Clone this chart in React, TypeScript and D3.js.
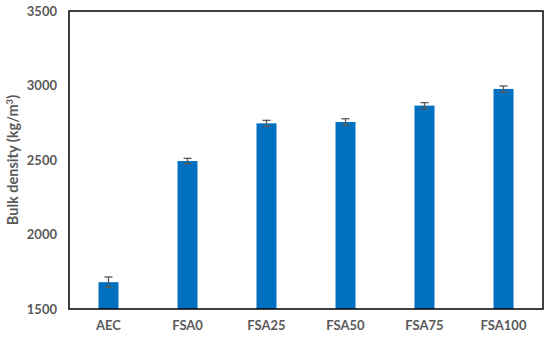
import React, { useRef, useEffect } from "react";
import * as d3 from "d3";

const categories = ["AEC", "FSA0", "FSA25", "FSA50", "FSA75", "FSA100"];
const density = [1680, 2493, 2746, 2755, 2865, 2977];
const errors = [35, 18, 20, 22, 20, 20];
const yTicks = [1500, 2000, 2500, 3000, 3500];

export const DensityChart = () => {
    const svgRef = useRef<SVGSVGElement>(null);

    useEffect(() => {
        if (!svgRef.current) return;

        const svg = d3.select(svgRef.current);
        svg.selectAll("*").remove();

        const width = 550;
        const height = 340;
        const margin = { top: 11, right: 7, bottom: 31, left: 69 };
        const font = "Lato, 'Open Sans', sans-serif";
        const grey = "#595959";

        const x = d3
            .scaleBand()
            .domain(categories)
            .range([margin.left, width - margin.right])
            .padding(0);

        const y = d3
            .scaleLinear()
            .domain([1500, 3500])
            .range([height - margin.bottom, margin.top]);

        const barW = x.bandwidth() * 0.253;

        svg.attr("width", width).attr("height", height);

        // bars
        svg.append("g")
            .selectAll("rect")
            .data(density)
            .enter()
            .append("rect")
            .attr("x", (d, i) => (x(categories[i]) || 0) + x.bandwidth() / 2 - barW / 2)
            .attr("y", (d) => y(d))
            .attr("width", barW)
            .attr("height", (d) => y(1500) - y(d))
            .attr("fill", "#0070C0");

        // error bars
        const eb = svg
            .append("g")
            .attr("stroke", grey)
            .attr("stroke-width", 1.3)
            .selectAll("g")
            .data(density)
            .enter()
            .append("g");

        eb.append("line")
            .attr("x1", (d, i) => (x(categories[i]) || 0) + x.bandwidth() / 2)
            .attr("x2", (d, i) => (x(categories[i]) || 0) + x.bandwidth() / 2)
            .attr("y1", (d, i) => y(d - errors[i]))
            .attr("y2", (d, i) => y(d + errors[i]));

        eb.append("line")
            .attr("x1", (d, i) => (x(categories[i]) || 0) + x.bandwidth() / 2 - 4)
            .attr("x2", (d, i) => (x(categories[i]) || 0) + x.bandwidth() / 2 + 4)
            .attr("y1", (d, i) => y(d + errors[i]))
            .attr("y2", (d, i) => y(d + errors[i]));

        eb.append("line")
            .attr("x1", (d, i) => (x(categories[i]) || 0) + x.bandwidth() / 2 - 4)
            .attr("x2", (d, i) => (x(categories[i]) || 0) + x.bandwidth() / 2 + 4)
            .attr("y1", (d, i) => y(d - errors[i]))
            .attr("y2", (d, i) => y(d - errors[i]));

        // axes
        const xAxis = svg
            .append("g")
            .attr("transform", `translate(0,${height - margin.bottom})`)
            .call(d3.axisBottom(x).tickSize(0).tickPadding(12));

        const yAxis = svg
            .append("g")
            .attr("transform", `translate(${margin.left},0)`)
            .call(
                d3
                    .axisLeft(y)
                    .tickValues(yTicks)
                    .tickFormat(d3.format("d"))
                    .tickSize(0)
                    .tickPadding(12)
            );

        [xAxis, yAxis].forEach((a) => {
            a.select(".domain").remove();
            a.selectAll("text")
                .attr("fill", grey)
                .attr("font-family", font)
                .attr("font-weight", "bold")
                .attr("font-size", 13);
        });

        // frame
        svg.append("rect")
            .attr("x", margin.left)
            .attr("y", margin.top)
            .attr("width", width - margin.left - margin.right)
            .attr("height", height - margin.top - margin.bottom)
            .attr("fill", "none")
            .attr("stroke", "#000")
            .attr("stroke-width", 1.5);

        // y title
        const title = svg
            .append("text")
            .attr("transform", `translate(18,${(margin.top + height - margin.bottom) / 2}) rotate(-90)`)
            .attr("text-anchor", "middle")
            .attr("fill", grey)
            .attr("font-family", font)
            .attr("font-weight", "bold")
            .attr("font-size", 14.5);
        title.append("tspan").text("Bulk density (kg/m");
        title.append("tspan").attr("font-size", 9.5).attr("dy", -5).text("3");
        title.append("tspan").attr("dy", 5).text(")");
    }, []);

    return <svg ref={svgRef} style={{ position: "absolute", left: 0, top: 0 }} />;
};

export default function App() {
    return <DensityChart />;
}
